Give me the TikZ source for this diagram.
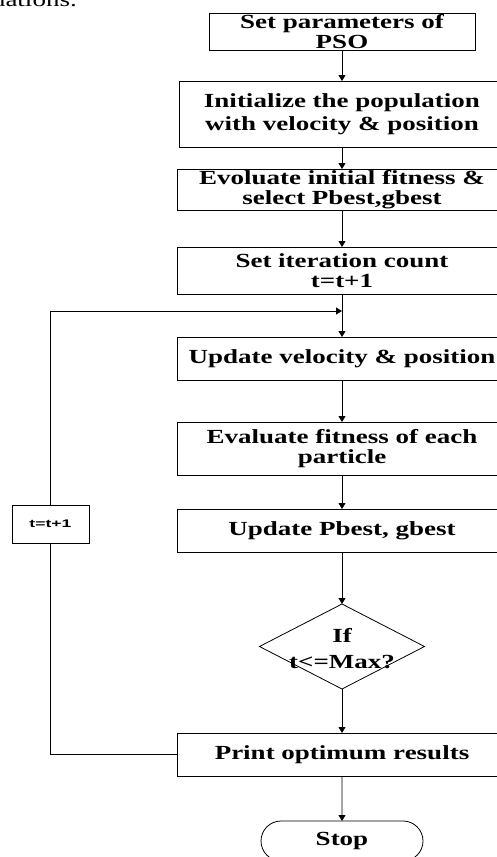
\documentclass[tikz,border=0pt]{standalone}
\usepackage{fontspec}
\setmainfont{Liberation Serif}
\newfontfamily\boxserif[FakeStretch=1.35]{Liberation Serif}
\newfontfamily\boxsans[FakeStretch=1.6]{Liberation Sans}
\usetikzlibrary{arrows.meta,shapes.geometric,shapes.misc}

\begin{document}
\begin{tikzpicture}[x=1pt,y=-1pt,
  every node/.style={inner sep=0pt, outer sep=0pt},
  flowbox/.style={draw, line width=0.8pt, minimum width=330pt, align=center,
    font=\boxserif\bfseries\fontsize{20}{20}\selectfont},
  loopbox/.style={draw, line width=0.8pt, minimum width=77pt, minimum height=38pt,
    font=\boxsans\bfseries\fontsize{11}{12}\selectfont},
  decision/.style={draw, diamond, line width=0.8pt, minimum width=165pt, minimum height=85pt},
  endbox/.style={draw, rounded rectangle, line width=0.8pt, minimum width=162pt, minimum height=40pt},
  label/.style={align=center, font=\boxserif\bfseries\fontsize{20}{26}\selectfont},
  flow/.style={draw, line width=0.8pt, -{Triangle[length=6pt,width=7pt]}},
  wire/.style={draw, line width=0.8pt}
]
\useasboundingbox (0,0) rectangle (497,857);
\clip (0,0) rectangle (497,857);

% tail of the preceding paragraph
\node[anchor=base west, font=\boxserif\fontsize{20}{20}\selectfont] (prev) at (-8,6) {uations.};

% main column of steps
\node[flowbox, minimum width=266pt, minimum height=37pt] (params) at (342,31.5) {Set parameters of\\PSO};
\node[flowbox, minimum width=326pt, minimum height=66pt,
      font=\boxserif\bfseries\fontsize{20}{23}\selectfont] (init) at (342,114) {Initialize the population\\with velocity \& position};
\node[flowbox, minimum height=41pt] (evinit) at (342,189.5) {Evoluate initial fitness \&\\select Pbest,gbest};
\node[flowbox, minimum height=47pt] (iter) at (342,270.5) {Set iteration count\\t=t+1};
\node[flowbox, minimum height=43pt] (update) at (342,358.5) {Update velocity \& position};
\node[flowbox, minimum height=53pt] (evfit) at (342,448.5) {Evaluate fitness of each\\particle};
\node[flowbox, minimum height=43pt] (best) at (342,530.5) {Update Pbest, gbest};
\node[decision] (check) at (342,646.5) {};
\node[label] (checktext) at (342,649) {If\\t<=Max?};
\node[flowbox, minimum height=43pt] (print) at (342,754.5) {Print optimum results};
\node[endbox, font=\boxserif\bfseries\fontsize{20}{20}\selectfont] (stop) at (342,841) {Stop};

% loop-back counter
\node[loopbox] (count) at (50.5,524) {t=t+1};
\coordinate (merge) at (342,311);

% connectors
\path[flow] (params) -- (init);
\path[flow] (init) -- (evinit);
\path[flow] (evinit) -- (iter);
\path[flow] (iter) -- (update);
\path[flow] (update) -- (evfit);
\path[flow] (evfit) -- (best);
\path[flow] (best) -- (check);
\path[flow] (check) -- (print);
\path[flow] (print) -- (stop);

\path[wire] (print.west) -| (count.south);
\path[flow] (count.north) |- (merge);
\end{tikzpicture}
\end{document}
